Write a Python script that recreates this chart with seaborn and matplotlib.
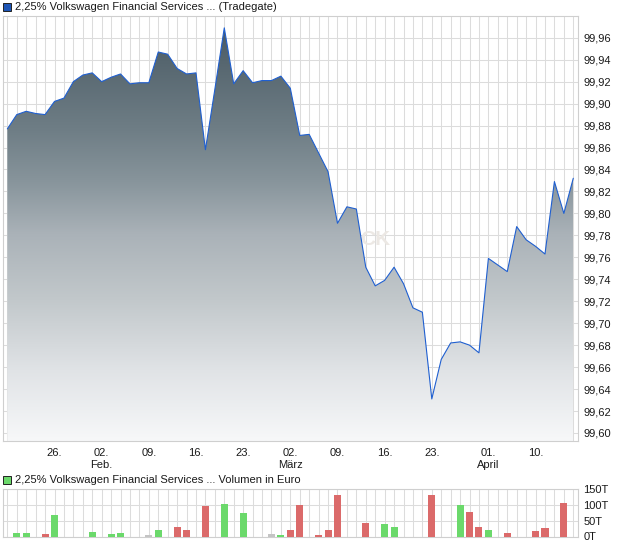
import numpy as np
import matplotlib
matplotlib.use("Agg")
import matplotlib.pyplot as plt
from matplotlib.colors import LinearSegmentedColormap
from matplotlib.patches import Rectangle, Polygon
import seaborn as sns

# trading day index 0..60 (Jan 19 .. Apr 16)
days = list(range(61))
price = [99.877, 99.890, 99.893, 99.891, 99.890, 99.902, 99.905, 99.920, 99.926, 99.928,
         99.920, 99.924, 99.927, 99.918, 99.919, 99.919, 99.947, 99.945, 99.932, 99.927,
         99.928, 99.858, 99.913, 99.969, 99.918, 99.930, 99.919, 99.921, 99.921, 99.925,
         99.914, 99.871, 99.872, 99.855, 99.838, 99.791, 99.806, 99.804, 99.751, 99.734,
         99.739, 99.751, 99.736, 99.714, 99.710, 99.631, 99.667, 99.682, 99.683, 99.680,
         99.673, 99.759, 99.753, 99.747, 99.788, 99.776, 99.770, 99.763, 99.829, 99.800,
         99.832]

vol_days = [1, 2, 4, 5, 9, 11, 12, 15, 16, 18, 19, 21, 23, 25, 28, 29, 30, 31,
            33, 34, 35, 38, 40, 41, 45, 48, 49, 50, 51, 53, 56, 57, 59]
vol_values = [11.5, 11.5, 8, 69, 14.5, 8, 11.5, 5, 21, 31, 21, 98, 104, 75, 8, 5, 21, 101,
              5, 21, 133, 43, 40, 31, 133, 101, 78, 31, 21, 11.5, 18, 27, 107]
vol_dir = ["up", "up", "down", "up", "up", "up", "up", "flat", "up", "down", "down", "down",
           "up", "up", "flat", "up", "down", "down",
           "down", "down", "down", "down", "up", "up", "down", "up", "down", "down", "up",
           "down", "down", "down", "down"]

tick_days = [5, 10, 15, 20, 25, 30, 35, 40, 45, 51, 56]
tick_labels = ["26.", "02.\nFeb.", "09.", "16.", "23.", "02.\nMärz", "09.", "16.", "23.",
               "01.\nApril", "10."]
price_ticks = [99.60, 99.62, 99.64, 99.66, 99.68, 99.70, 99.72, 99.74, 99.76, 99.78,
               99.80, 99.82, 99.84, 99.86, 99.88, 99.90, 99.92, 99.94, 99.96]
vol_ticks = [0, 50, 100, 150]
vol_tick_labels = ["0T", "50T", "100T", "150T"]

title_price = "2,25% Volkswagen Financial Services ... (Tradegate)"
title_vol = "2,25% Volkswagen Financial Services ... Volumen in Euro"

sns.set_style("white")
plt.rcParams['font.family'] = ['Liberation Sans', 'DejaVu Sans']

GRID = '#dcdcdc'
SPINE = '#cfcfcf'
TXT = '#1a1a1a'

W, H = 620, 546
fig = plt.figure(figsize=(6.2, 5.46), dpi=100)
ax = fig.add_axes([3 / W, 1 - 441 / H, 575 / W, 425 / H])
axv = fig.add_axes([3 / W, 1 - 536.5 / H, 575 / W, 47.2 / H])

x_lo, x_hi = -0.46, 60.5
y_lo, y_hi = 99.5927, 99.9798

# --- price panel
ax.set_xlim(x_lo, x_hi)
ax.set_ylim(y_lo, y_hi)
ax.set_axisbelow(True)

grad_cmap = LinearSegmentedColormap.from_list(
    "slate", [(0.0, '#f7f8f9'), (0.17, '#e0e3e6'), (0.34, '#c2c8cb'), (0.5, '#aab2b8'),
              (0.63, '#87949b'), (0.75, '#6f7e86'), (0.92, '#56666f'), (1.0, '#4a5a65')])
verts = [(days[0], y_lo)] + list(zip(days, price)) + [(days[-1], y_lo)]
clip = Polygon(verts, closed=True, facecolor='none', edgecolor='none')
ax.add_patch(clip)
grad = np.linspace(0, 1, 256).reshape(-1, 1)
im = ax.imshow(grad, extent=[days[0], days[-1], y_lo, max(price)], origin='lower',
               cmap=grad_cmap, aspect='auto', zorder=2, interpolation='bilinear')
im.set_clip_path(clip)

# faint watermark, mostly hidden behind the area
ax.text(39.0, 99.776, "CK", color='#ece8e4', fontsize=15, fontweight='bold',
        ha='center', va='center', zorder=1.5)

sns.lineplot(x=days, y=price, ax=ax, color='#1f5fd0', lw=0.8, zorder=4)

ax.set_xticks(tick_days)
ax.set_xticklabels(tick_labels, fontsize=8, color=TXT, linespacing=1.25)
ax.set_xticks(days, minor=True)
ax.set_yticks(price_ticks)
ax.set_yticklabels([f"{v:.2f}".replace('.', ',') for v in price_ticks], fontsize=8, color=TXT)
ax.yaxis.tick_right()
ax.tick_params(axis='y', which='both', length=0, pad=4)
ax.tick_params(axis='x', which='both', length=2, width=0.75, color=SPINE, pad=3)
ax.grid(True, which='both', axis='x', color=GRID, lw=0.75)
ax.grid(True, which='major', axis='y', color=GRID, lw=0.75)
ax.set_xlabel("")
ax.set_ylabel("")
for s in ax.spines.values():
    s.set_color(SPINE)
    s.set_linewidth(0.8)

# --- volume panel
sns.barplot(x=vol_days, y=vol_values, hue=vol_dir, ax=axv, native_scale=True, dodge=False,
            palette={"up": '#6bd96b', "down": '#db6a6a', "flat": '#c4c4c4'},
            width=0.75, errorbar=None, legend=False, saturation=1, linewidth=0, zorder=3)
axv.set_xlim(x_lo, x_hi)
axv.set_ylim(0, 150)
axv.set_axisbelow(True)
axv.set_xticks(days)
axv.set_xticklabels([])
axv.set_yticks(vol_ticks)
axv.set_yticklabels(vol_tick_labels, fontsize=8, color=TXT)
axv.yaxis.tick_right()
axv.tick_params(axis='both', which='both', length=0)
axv.tick_params(axis='y', pad=4)
axv.grid(True, axis='both', color=GRID, lw=0.75)
axv.set_xlabel("")
axv.set_ylabel("")
for s in axv.spines.values():
    s.set_color(SPINE)
    s.set_linewidth(0.8)

# --- panel headers
fig.patches.append(Rectangle((3 / W, 1 - 10.5 / H), 8 / W, 8 / H, transform=fig.transFigure,
                             facecolor='#1d55b5', edgecolor='#222222', lw=0.7))
fig.text(15 / W, 1 - 6.5 / H, title_price, fontsize=8, color=TXT, va='center', ha='left')
fig.patches.append(Rectangle((3 / W, 1 - 484 / H), 8 / W, 8 / H, transform=fig.transFigure,
                             facecolor='#6bd96b', edgecolor='#222222', lw=0.7))
fig.text(15 / W, 1 - 480 / H, title_vol, fontsize=8, color=TXT, va='center', ha='left')

fig.savefig("out.png", dpi=100, facecolor='white')
